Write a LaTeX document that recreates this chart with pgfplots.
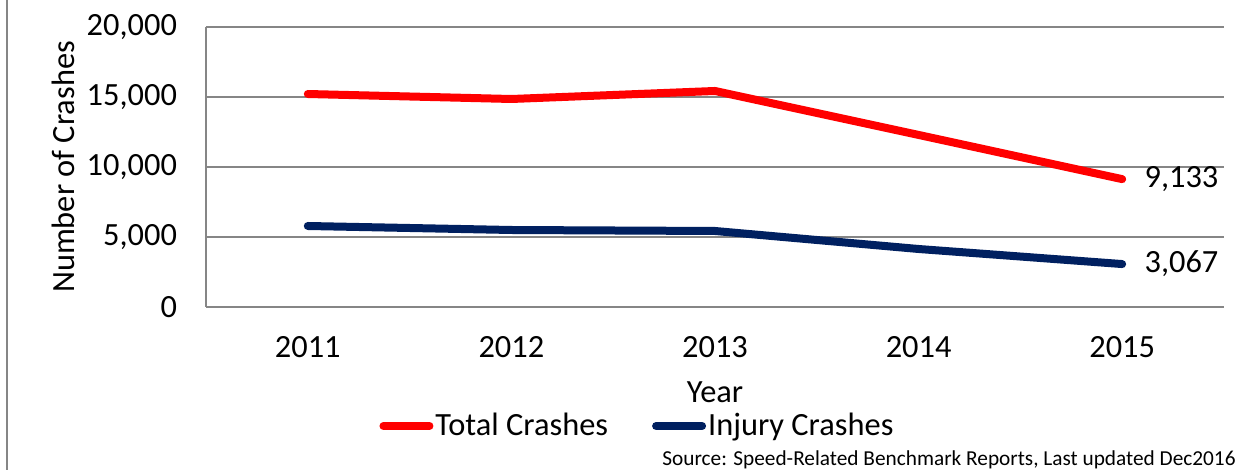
\documentclass[border=0pt]{standalone}
\usepackage{pgfplots}
\pgfplotsset{compat=1.18}
\usepackage{fontspec}
\setmainfont{Carlito}
\definecolor{navy}{RGB}{0,32,96}
\definecolor{gridgray}{RGB}{134,134,134}
\begin{document}
\begin{tikzpicture}
\useasboundingbox (-103pt,-81.5pt) rectangle (519pt,153.5pt);
\draw[gridgray, line width=0.9pt] (-99.5pt,-81.5pt) -- (-99.5pt,153.5pt);
\begin{axis}[
  at={(0,0)}, anchor=south west,
  scale only axis, width=509pt, height=140pt,
  xmin=2010.5, xmax=2015.5, ymin=0, ymax=20000,
  xtick={2011,2012,2013,2014,2015},
  ytick={0,5000,10000,15000,20000},
  scaled y ticks=false,
  /pgf/number format/assume math mode=true,
  xticklabel style={/pgf/number format/1000 sep=},
  yticklabel style={/pgf/number format/1000 sep={,}},
  tick label style={font=\fontsize{16.2}{18}\selectfont},
  major tick length=0pt,
  axis lines*=left,
  axis line style={gridgray, line width=0.7pt, -},
  ymajorgrids, grid style={gridgray, line width=0.7pt},
  xticklabel style={yshift=-11pt},
  yticklabel style={xshift=-11pt},
  xlabel={Year}, ylabel={Number of Crashes},
  label style={font=\fontsize{16.2}{18}\selectfont},
  xlabel style={at={(axis description cs:0.5,-0.3036)}, anchor=center},
  ylabel style={at={(axis description cs:-0.1405,0.5)}, anchor=center},
  legend style={draw=none, fill=none, inner sep=0pt, at={(axis description cs:0.1700,-0.425)}, anchor=west,
    font=\fontsize{16.2}{18}\selectfont, legend columns=2,
    /tikz/every even column/.append style={column sep=21pt},
    nodes={inner sep=1pt}},
  legend image code/.code={\draw[#1, line cap=round] (2pt,0pt) -- (25pt,0pt);},
  clip=false,
]
\addplot[red, line width=4pt, line cap=round, line join=round] coordinates {
  (2011,15214) (2012,14857) (2013,15430) (2014,12290) (2015,9133)};
\addlegendentry{Total Crashes}
\addplot[navy, line width=4pt, line cap=round, line join=round] coordinates {
  (2011,5786) (2012,5500) (2013,5429) (2014,4143) (2015,3067)};
\addlegendentry{Injury Crashes}
\node[anchor=west, inner sep=0pt, xshift=11pt, font=\fontsize{16.2}{18}\selectfont] at (axis cs:2015,9133) {9,133};
\node[anchor=west, inner sep=0pt, xshift=11pt, font=\fontsize{16.2}{18}\selectfont] at (axis cs:2015,3067) {3,067};
\end{axis}
\node[anchor=base east, inner sep=0pt, font=\fontsize{10.65}{12}\selectfont] at (515pt,-79.5pt) {Source: Speed-Related Benchmark Reports, Last updated Dec2016};
\end{tikzpicture}
\end{document}
